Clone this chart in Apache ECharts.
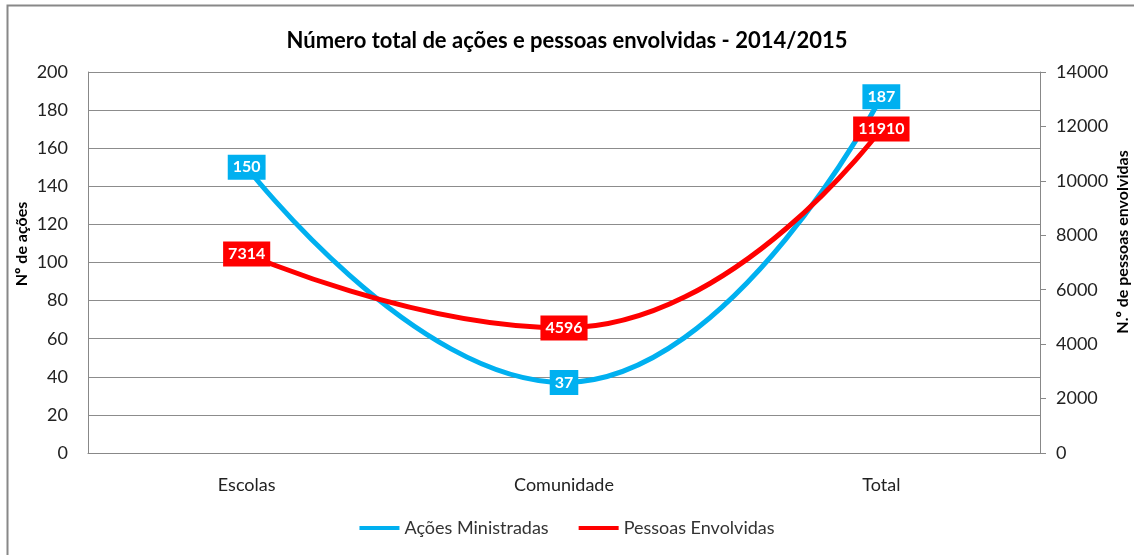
<!DOCTYPE html>
<html>
<head>
<meta charset="utf-8">
<script src="https://cdn.jsdelivr.net/npm/echarts@6/dist/echarts.min.js"></script>
<style>
  html, body { margin: 0; padding: 0; background: #fff; }
  #chart { width: 1134px; height: 555px; }
</style>
</head>
<body>
<div id="chart"></div>
<script>
// dados
var categorias = ['Escolas', 'Comunidade', 'Total'];
var acoes = [150, 37, 187];
var pessoas = [7314, 4596, 11910];
var seriesNames = ['Ações Ministradas', 'Pessoas Envolvidas'];

var font = 'Lato';
var azul = '#00B0F0';
var vermelho = '#FF0000';

var myChart = echarts.init(document.getElementById('chart'));

function rotulo(cor) {
  return {
    show: true,
    position: 'inside',
    color: '#fff',
    fontWeight: 'bold',
    fontFamily: font,
    fontSize: 16,
    backgroundColor: cor,
    padding: [5, 5, 4, 5]
  };
}

myChart.setOption({
  animation: false,
  title: {
    text: 'Número total de ações e pessoas envolvidas - 2014/2015',
    left: 'center',
    top: 25,
    textStyle: { fontFamily: font, fontSize: 22, fontWeight: 'bold', color: '#000' }
  },
  legend: {
    bottom: 13,
    left: 'center',
    itemWidth: 40,
    itemHeight: 4,
    itemGap: 30,
    icon: 'rect',
    textStyle: { fontFamily: font, fontSize: 18, color: '#333' },
    data: seriesNames
  },
  grid: { left: 88, right: 94, top: 72, bottom: 102 },
  xAxis: {
    type: 'category',
    data: categorias,
    axisLine: { lineStyle: { color: '#888' } },
    axisTick: { show: false },
    axisLabel: { fontFamily: font, fontSize: 18, color: '#222', margin: 23 }
  },
  yAxis: [
    {
      type: 'value',
      min: 0, max: 200, interval: 20,
      axisLine: { show: true, lineStyle: { color: '#888' } },
      axisTick: { show: false },
      axisLabel: { fontFamily: font, fontSize: 18, color: '#222', margin: 20 },
      splitLine: { lineStyle: { color: '#8c8c8c' } }
    },
    {
      type: 'value',
      min: 0, max: 14000, interval: 2000,
      axisLine: { show: true, lineStyle: { color: '#888' } },
      axisTick: { show: true, length: 6, lineStyle: { color: '#888' } },
      axisLabel: {
        fontFamily: font, fontSize: 18, color: '#222', margin: 16,
        formatter: function (v) { return String(v); }
      },
      splitLine: { show: false }
    }
  ],
  graphic: [
    {
      // moldura (cortada à direita e em baixo, como no original)
      type: 'rect',
      shape: { x: 7.5, y: 5.5, width: 1200, height: 600 },
      style: { fill: 'none', stroke: '#888', lineWidth: 2 },
      silent: true
    },
    {
      type: 'text',
      x: 22, y: 244,
      rotation: Math.PI / 2,
      style: {
        text: 'Nº de ações',
        fontFamily: font, fontSize: 16, fontWeight: 'bold', fill: '#000',
        align: 'center', verticalAlign: 'middle'
      }
    },
    {
      type: 'text',
      x: 1123, y: 242,
      rotation: Math.PI / 2,
      style: {
        text: 'N.º de pessoas envolvidas',
        fontFamily: font, fontSize: 16, fontWeight: 'bold', fill: '#000',
        align: 'center', verticalAlign: 'middle'
      }
    }
  ],
  series: [
    {
      name: seriesNames[0],
      type: 'line',
      yAxisIndex: 0,
      smooth: true,
      data: acoes,
      symbol: 'circle',
      symbolSize: 2,
      showSymbol: true,
      color: azul,
      lineStyle: { width: 5, color: azul },
      label: rotulo(azul),
      z: 3
    },
    {
      name: seriesNames[1],
      type: 'line',
      yAxisIndex: 1,
      smooth: true,
      data: pessoas,
      symbol: 'circle',
      symbolSize: 2,
      showSymbol: true,
      color: vermelho,
      lineStyle: { width: 5, color: vermelho },
      label: rotulo(vermelho),
      z: 4
    }
  ]
});
</script>
</body>
</html>
